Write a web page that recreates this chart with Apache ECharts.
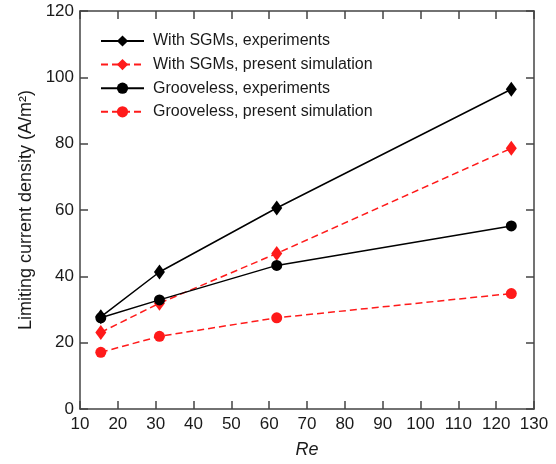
<!DOCTYPE html>
<html>
<head>
<meta charset="utf-8">
<script src="https://cdn.jsdelivr.net/npm/echarts@6/dist/echarts.min.js"></script>
<style>
html,body{margin:0;padding:0;background:#fff;}
#chart{width:556px;height:464px;}
</style>
</head>
<body>
<div id="chart"></div>
<script>
// Reynolds numbers of the measured / simulated cases
const reValues = [15.5, 31, 62, 124];
// Limiting current density (A/m²)
const sgmExperiment = [27.8, 41.3, 60.6, 96.4];
const sgmSimulation = [23.1, 31.9, 46.9, 78.6];
const groovelessExperiment = [27.5, 32.9, 43.3, 55.2];
const groovelessSimulation = [17.1, 21.9, 27.5, 34.8];

const seriesNames = [
  'With SGMs, experiments',
  'With SGMs, present simulation',
  'Grooveless, experiments',
  'Grooveless, present simulation'
];

const FONT = '"Liberation Sans", Arial, sans-serif';
const AXIS_COLOR = '#444';
const TEXT_COLOR = '#1a1a1a';

function pairs(ys) { return reValues.map((x, i) => [x, ys[i]]); }

function makeSeries(name, ys, color, dashed, symbol, size) {
  return {
    name: name,
    type: 'line',
    data: pairs(ys),
    symbol: symbol,
    symbolSize: size,
    itemStyle: { color: color },
    lineStyle: { color: color, width: 1.5, type: dashed ? [7, 4] : 'solid' },
    emphasis: { disabled: true },
    animation: false
  };
}

const chart = echarts.init(document.getElementById('chart'));
const baseAxis = {
  axisLine: { onZero: false, lineStyle: { color: AXIS_COLOR, width: 1.5 } },
  axisTick: { inside: true, length: 8, lineStyle: { color: AXIS_COLOR, width: 1.5 } },
  splitLine: { show: false }
};

chart.setOption({
  animation: false,
  grid: { left: 80, right: 22, top: 11, bottom: 51, containLabel: false },
  legend: {
    orient: 'vertical',
    left: 95,
    top: 28,
    itemWidth: 43,
    itemHeight: 14,
    itemGap: 7.6,
    textStyle: { fontFamily: FONT, fontSize: 16, color: TEXT_COLOR, padding: [0, 0, 0, 4] },
    data: seriesNames
  },
  xAxis: [
    Object.assign({}, baseAxis, {
      type: 'value', min: 10, max: 130, interval: 10,
      name: 'Re', nameLocation: 'middle', nameGap: 32,
      nameTextStyle: { fontFamily: FONT, fontSize: 18, fontStyle: 'italic', color: TEXT_COLOR },
      axisLabel: { fontFamily: FONT, fontSize: 17, color: TEXT_COLOR, margin: 7 }
    }),
    Object.assign({}, baseAxis, {
      type: 'value', min: 10, max: 130, interval: 10, position: 'top',
      axisLabel: { show: false }
    })
  ],
  yAxis: [
    Object.assign({}, baseAxis, {
      type: 'value', min: 0, max: 120, interval: 20,
      name: 'Limiting current density (A/m²)', nameLocation: 'middle', nameGap: 45,
      nameTextStyle: { fontFamily: FONT, fontSize: 18, color: TEXT_COLOR },
      axisLabel: { fontFamily: FONT, fontSize: 17, color: TEXT_COLOR, margin: 6 }
    }),
    Object.assign({}, baseAxis, {
      type: 'value', min: 0, max: 120, interval: 20, position: 'right',
      axisLabel: { show: false }
    })
  ],
  series: [
    makeSeries(seriesNames[0], sgmExperiment, '#000', false, 'diamond', [11, 15]),
    makeSeries(seriesNames[1], sgmSimulation, '#ff1a1a', true, 'diamond', [11, 15]),
    makeSeries(seriesNames[2], groovelessExperiment, '#000', false, 'circle', 11),
    makeSeries(seriesNames[3], groovelessSimulation, '#ff1a1a', true, 'circle', 11)
  ]
});
</script>
</body>
</html>
